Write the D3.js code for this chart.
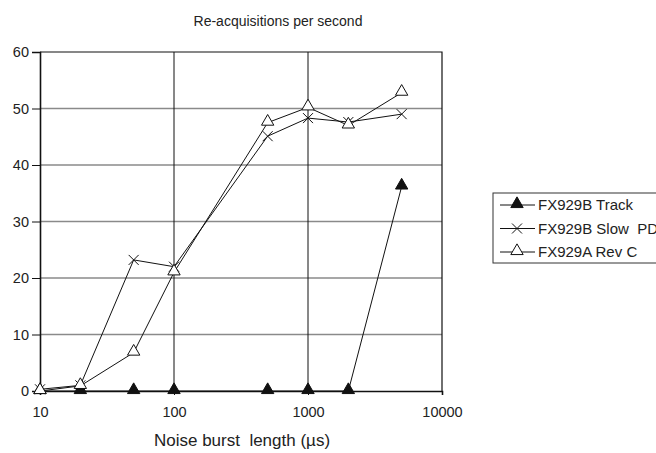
<!doctype html>
<html lang="en">
<head>
<meta charset="UTF-8">
<title>Re-acquisitions per second</title>
<style>
  body { margin: 0; background: #fff; }
  svg text { font-family: "Liberation Sans", Arial, sans-serif; fill: #222; white-space: pre; }
</style>
</head>
<body>
<svg width="656" height="453"></svg>
<script src="https://cdn.jsdelivr.net/npm/d3@7/dist/d3.min.js"></script>
<script>
var burstLen = [10, 20, 50, 100, 500, 1000, 2000, 5000];
var trackVals = [0, 0, 0, 0, 0, 0, 0, 36.2];
var slowPdVals = [0.3, 1, 23.2, 22, 45.1, 48.3, 47.6, 49];
var revCVals = [0, 0.9, 6.8, 21, 47.5, 50.2, 47, 52.8];
var xTicks = [10, 100, 1000, 10000];
var yTicks = [0, 10, 20, 30, 40, 50, 60];
var seriesNames = ['FX929B Track', 'FX929B Slow  PD', 'FX929A Rev C'];

var svg = d3.select('svg');

// scales
var x = d3.scaleLog().domain([10, 10000]).range([40, 442]);
var y = d3.scaleLinear().domain([0, 60]).range([391, 52]);

// horizontal grid (grey)
svg.append('g')
    .selectAll('line')
    .data(yTicks.filter(function(d) { return d > 0 && d < 60; }))
    .enter().append('line')
    .attr('x1', x(10)).attr('x2', x(10000))
    .attr('y1', function(d) { return y(d); })
    .attr('y2', function(d) { return y(d); })
    .attr('stroke', '#8a8a8a').attr('stroke-width', 1.3);

// vertical grid (black)
svg.append('g')
    .selectAll('line')
    .data([100, 1000])
    .enter().append('line')
    .attr('x1', function(d) { return x(d); })
    .attr('x2', function(d) { return x(d); })
    .attr('y1', y(0)).attr('y2', y(60))
    .attr('stroke', '#111').attr('stroke-width', 1);

// frame: top & right
svg.append('path')
    .attr('d', 'M' + x(10) + ',' + y(60) + 'H' + x(10000) + 'V' + y(0))
    .attr('fill', 'none').attr('stroke', '#111').attr('stroke-width', 1.2);

// axes
var xAxis = svg.append('g')
    .attr('transform', 'translate(0,' + y(0) + ')')
    .call(d3.axisBottom(x).tickValues(xTicks).tickFormat(d3.format('d')).tickSize(4).tickPadding(12));
var yAxis = svg.append('g')
    .attr('transform', 'translate(' + x(10) + ',0)')
    .call(d3.axisLeft(y).tickValues(yTicks).tickSize(8).tickPadding(3));
[xAxis, yAxis].forEach(function(a) {
    a.select('.domain').attr('stroke', '#111').attr('stroke-width', 1.6);
    a.selectAll('.tick line').attr('stroke', '#111');
    a.selectAll('text').style('font-size', '14.5px').attr('fill', '#222');
});

// titles
svg.append('text')
    .attr('x', 278).attr('y', 26)
    .attr('text-anchor', 'middle')
    .style('font-size', '14px')
    .text('Re-acquisitions per second');
svg.append('text')
    .attr('x', 242).attr('y', 446)
    .attr('text-anchor', 'middle')
    .style('font-size', '17px')
    .text('Noise burst  length (µs)');

var line = d3.line()
    .x(function(d, i) { return x(burstLen[i]); })
    .y(function(d) { return y(d); });

var tri = d3.symbol().type(d3.symbolTriangle).size(66);

function drawMarker(g, kind, px, py) {
    if (kind === 'cross') {
        g.append('path')
            .attr('d', 'M-5,-5L5,5M-5,5L5,-5')
            .attr('transform', 'translate(' + px + ',' + py + ')')
            .attr('stroke', '#111').attr('stroke-width', 1).attr('fill', 'none');
    } else {
        g.append('path')
            .attr('d', tri())
            .attr('transform', 'translate(' + px + ',' + (py - 1) + ')')
            .attr('fill', kind === 'solid' ? '#111' : '#fff')
            .attr('stroke', '#111').attr('stroke-width', 1);
    }
}

var series = [
    { vals: trackVals, kind: 'solid' },
    { vals: slowPdVals, kind: 'cross' },
    { vals: revCVals, kind: 'open' }
];

series.forEach(function(s) {
    var g = svg.append('g');
    g.append('path')
        .attr('d', line(s.vals))
        .attr('fill', 'none')
        .attr('stroke', '#111')
        .attr('stroke-width', 1);
    s.vals.forEach(function(v, i) {
        drawMarker(g, s.kind, x(burstLen[i]), y(v));
    });
});

// legend
var lg = svg.append('g').attr('transform', 'translate(493,193)');
lg.append('rect')
    .attr('width', 180).attr('height', 70)
    .attr('fill', '#fff').attr('stroke', '#333').attr('stroke-width', 1);
series.forEach(function(s, i) {
    var ly = 12 + i * 23.5;
    lg.append('line')
        .attr('x1', 7).attr('x2', 42)
        .attr('y1', ly).attr('y2', ly)
        .attr('stroke', '#111').attr('stroke-width', 1);
    drawMarker(lg, s.kind, 24, ly);
    lg.append('text')
        .attr('x', 45).attr('y', ly + 5)
        .style('font-size', '15px')
        .text(seriesNames[i]);
});
</script>
</body>
</html>
